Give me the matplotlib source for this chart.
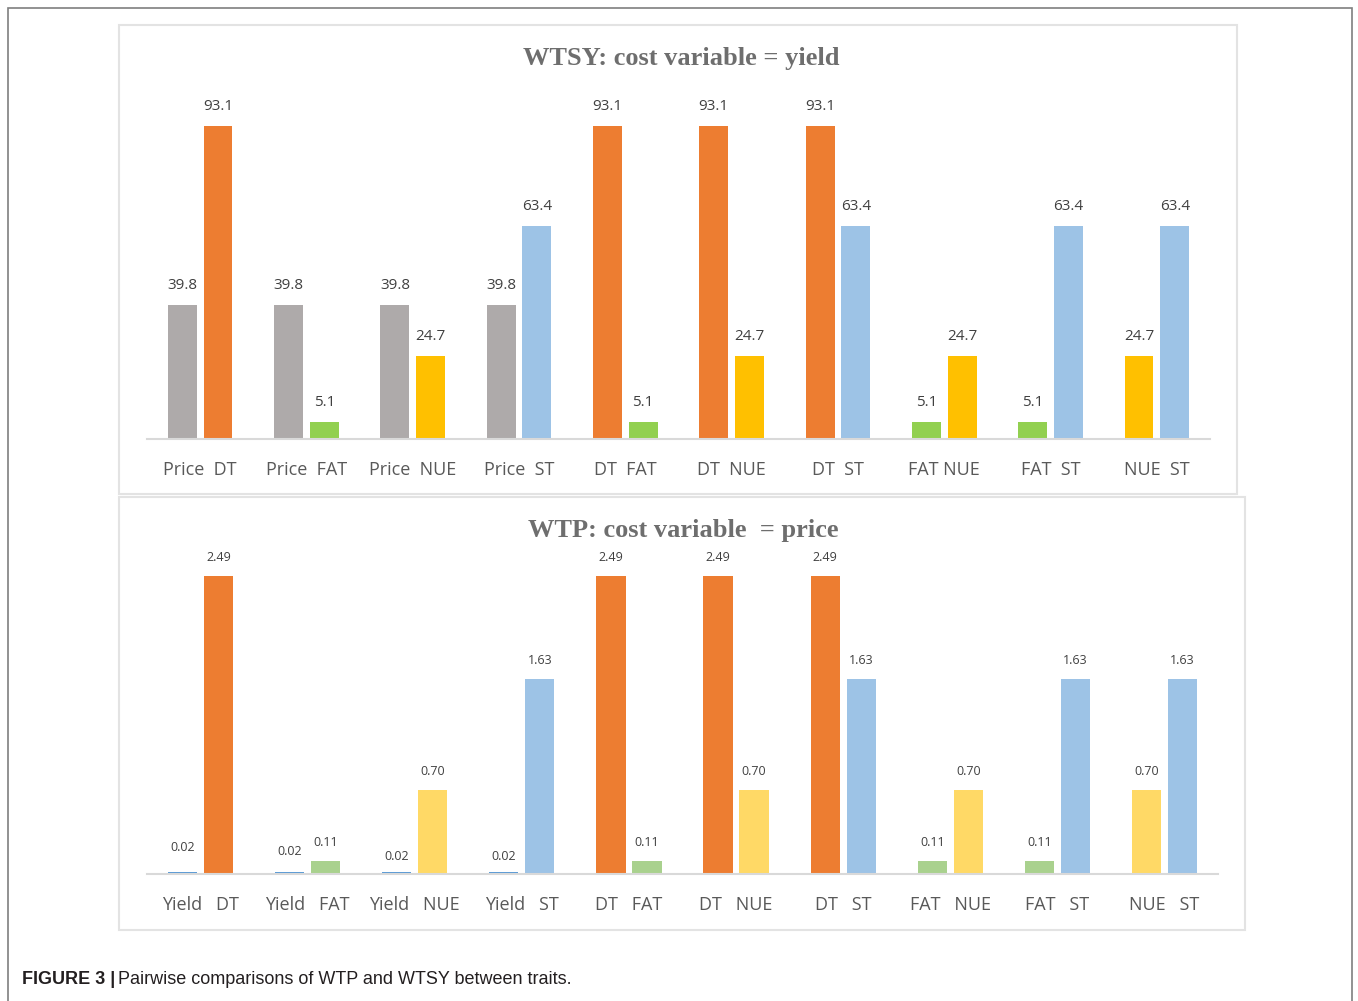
import matplotlib.pyplot as plt
from matplotlib.patches import Rectangle

# WTSY panel (cost variable = yield)
wtsy_labels = ["Price  DT", "Price  FAT", "Price  NUE", "Price  ST", "DT  FAT",
               "DT  NUE", "DT  ST", "FAT NUE", "FAT  ST", "NUE  ST"]
wtsy_left = ["Price", "Price", "Price", "Price", "DT", "DT", "DT", "FAT", "FAT", "NUE"]
wtsy_right = ["DT", "FAT", "NUE", "ST", "FAT", "NUE", "ST", "NUE", "ST", "ST"]
wtsy_values = {"Price": 39.8, "DT": 93.1, "FAT": 5.1, "NUE": 24.7, "ST": 63.4}

# WTP panel (cost variable = price)
wtp_labels = ["Yield   DT", "Yield   FAT", "Yield   NUE", "Yield   ST", "DT   FAT",
              "DT   NUE", "DT   ST", "FAT   NUE", "FAT   ST", "NUE   ST"]
wtp_left = ["Yield", "Yield", "Yield", "Yield", "DT", "DT", "DT", "FAT", "FAT", "NUE"]
wtp_right = ["DT", "FAT", "NUE", "ST", "FAT", "NUE", "ST", "NUE", "ST", "ST"]
wtp_values = {"Yield": 0.02, "DT": 2.49, "FAT": 0.11, "NUE": 0.70, "ST": 1.63}

wtsy_colors = {"Price": "#AEAAAA", "DT": "#ED7D31", "FAT": "#92D050",
               "NUE": "#FFC000", "ST": "#9DC3E6"}
wtp_colors = {"Yield": "#5B9BD5", "DT": "#ED7D31", "FAT": "#A9D18E",
              "NUE": "#FFD966", "ST": "#9DC3E6"}

W, H = 1358, 1001


def px_axes(fig, x0, x1, ybase, ytop):
    # pixel box (origin top-left) -> figure fraction axes
    return fig.add_axes([x0 / W, 1 - ybase / H, (x1 - x0) / W, (ybase - ytop) / H])


def draw_panel(ax, labels, left, right, values, colors, fmt, vmax, label_size, small_lift):
    off = 0.168
    bw = 0.272
    for i in range(len(labels)):
        for x, key in ((i - off, left[i]), (i + off, right[i])):
            v = values[key]
            ax.bar(x, v, width=bw, color=colors[key], zorder=2)
            lift = 12 + (small_lift[i] if key == left[i] and small_lift else 0)
            ax.annotate(fmt.format(v), (x, v), xytext=(0, lift), textcoords="offset pixels",
                        ha="center", va="bottom", fontsize=label_size, color="#404040",
                        family="Open Sans", annotation_clip=False)
    ax.set_xlim(-0.5, 9.5)
    ax.set_ylim(0, vmax)
    ax.set_xticks(range(len(labels)))
    ax.set_xticklabels(labels, fontsize=13, color="#595959", family="Open Sans")
    ax.tick_params(axis="x", length=0, pad=16)
    ax.set_yticks([])
    for s in ["top", "right", "left"]:
        ax.spines[s].set_visible(False)
    ax.spines["bottom"].set_color("#D9D9D9")
    ax.spines["bottom"].set_linewidth(1.5)
    ax.patch.set_alpha(0)


def main():
    fig = plt.figure(figsize=(W / 100, H / 100), dpi=100)

    def box(x0, y0, x1, y1, color, lw):
        fig.patches.append(Rectangle((x0 / W, 1 - y1 / H), (x1 - x0) / W, (y1 - y0) / H,
                                     transform=fig.transFigure, fill=False,
                                     edgecolor=color, linewidth=lw))

    box(8, 8, 1352, 1010, "#7F7F7F", 1.2)
    box(119, 25, 1237, 494, "#E3E3E3", 1.5)
    box(119, 497, 1245, 930, "#E3E3E3", 1.5)

    # top panel: 93.1 -> 313 px above baseline at y=439
    ax1 = px_axes(fig, 147, 1210, 439, 126)
    draw_panel(ax1, wtsy_labels, wtsy_left, wtsy_right, wtsy_values, wtsy_colors,
               "{:.1f}", 93.1, 11, None)
    # bottom panel: 2.49 -> 298 px above baseline at y=874
    ax2 = px_axes(fig, 147, 1218, 874, 576)
    # the tiny "Yield" labels sit a bit higher in the original
    draw_panel(ax2, wtp_labels, wtp_left, wtp_right, wtp_values, wtp_colors,
               "{:.2f}", 2.49, 9, [6, 2, -3, -3, 0, 0, 0, 0, 0, 0])

    fig.text(681 / W, 1 - 59 / H, "WTSY: cost variable = yield", ha="center", va="center",
             fontsize=19, fontweight="bold", family="Liberation Serif", color="#6E6E6E")
    fig.text(683 / W, 1 - 531 / H, "WTP: cost variable  = price", ha="center", va="center",
             fontsize=19, fontweight="bold", family="Liberation Serif", color="#6E6E6E")

    t = fig.text(22 / W, 1 - 980 / H, "FIGURE 3 |", ha="left", va="center",
                 fontsize=13, fontweight="bold", family="Liberation Sans", color="#231F20")
    fig.canvas.draw()
    bb = t.get_window_extent()
    fig.text((bb.x1 + 3) / W, 1 - 980 / H, "Pairwise comparisons of WTP and WTSY between traits.",
             ha="left", va="center", fontsize=13, family="Liberation Sans", color="#231F20")

    fig.savefig("out.png", dpi=100)


if __name__ == "__main__":
    main()
